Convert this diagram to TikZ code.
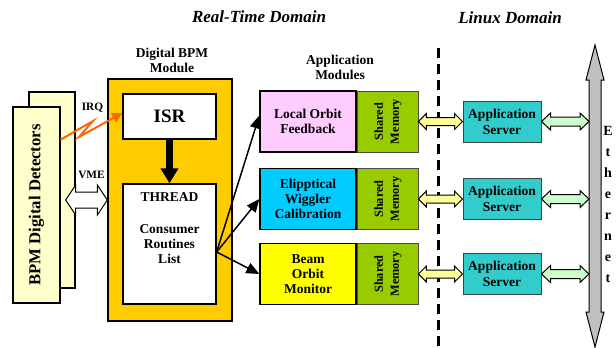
\documentclass[tikz,border=0pt]{standalone}
\usepackage{fontspec}
\setmainfont{Liberation Serif}
\usetikzlibrary{arrows.meta,positioning,calc}
\definecolor{detfill}{RGB}{255,255,204}
\definecolor{bpmorange}{RGB}{255,204,0}
\definecolor{appPink}{RGB}{255,204,255}
\definecolor{appCyan}{RGB}{0,204,255}
\definecolor{appYellow}{RGB}{255,255,0}
\definecolor{shmgreen}{RGB}{153,204,0}
\definecolor{srvteal}{RGB}{51,204,204}
\definecolor{ylwarrow}{RGB}{255,255,153}
\definecolor{grnarrow}{RGB}{204,255,204}
\definecolor{ethgray}{RGB}{192,192,192}
\definecolor{irqorange}{RGB}{255,102,0}
\newcommand{\lbl}{\fontsize{13.5}{15}\selectfont\bfseries}
% fat horizontal double arrow: style, left end, right end, shaft/2, head/2, head length
\newcommand{\fatarrow}[6]{%
  \path[#1] let \p1=(#2), \p2=(#3) in
    (\x1,\y1) -- (\x1+#6,\y1+#5) -- (\x1+#6,\y1+#4) -- (\x2-#6,\y1+#4) -- (\x2-#6,\y1+#5) -- (\x2,\y1)
    -- (\x2-#6,\y1-#5) -- (\x2-#6,\y1-#4) -- (\x1+#6,\y1-#4) -- (\x1+#6,\y1-#5) -- cycle;}

\begin{document}
\begin{tikzpicture}[x=1pt,y=-1pt,
    box/.style={draw,line width=1.3pt,inner sep=0pt,align=center,font=\lbl},
    detbox/.style={draw,line width=1.3pt,fill=detfill,inner sep=0pt,font=\fontsize{16.7}{18}\selectfont\bfseries},
    shmbox/.style={draw=black!70,line width=0.8pt,fill=shmgreen,minimum width=61pt,minimum height=61pt,inner sep=0pt,
      font=\fontsize{12.3}{16}\selectfont\bfseries},
    srvbox/.style={draw=black!75,line width=1pt,fill=srvteal,minimum width=78pt,minimum height=41pt,inner sep=0pt,
      align=center,font=\fontsize{13.5}{16}\selectfont\bfseries},
    heading/.style={font=\fontsize{17}{20}\selectfont\bfseries\itshape},
    caption/.style={align=center,font=\lbl},
    fanarrow/.style={line width=1.5pt,-{Triangle[length=13pt,width=11pt]}},
    irqarrow/.style={draw=irqorange,line width=2pt,-{Triangle[length=10pt,width=10pt]}}]
  \useasboundingbox (0,0) rectangle (616,348);

  % titles
  \node[heading] (rtdom) at (259,17) {Real-Time Domain};
  \node[heading] (lxdom) at (510,18) {Linux Domain};
  \node[caption] (bpmcap) at (172,60) {Digital BPM\\Module};
  \node[caption] (appcap) at (340,67.5) {Application\\Modules};

  % domain border
  \draw[line width=3pt,dash pattern=on 10pt off 6pt] (438,48) coordinate (domtop) -- (438,348) coordinate (dombot);

  % detector boards
  \node[detbox,minimum width=46pt,minimum height=196pt] (detback) at (52,190) {};
  \node[detbox,minimum width=47pt,minimum height=196pt] (det) at (36.5,205) {\rotatebox{90}{BPM Digital Detectors}};

  % digital BPM module
  \node[box,fill=bpmorange,minimum width=124pt,minimum height=242pt] (bpm) at (170,200) {};
  \node[box,fill=white,minimum width=93pt,minimum height=45pt,font=\fontsize{19}{20}\selectfont\bfseries] (isr) at (169.5,116.5) {ISR};
  \node[box,fill=white,minimum width=93pt,minimum height=120pt] (thread) at (169.5,244) {};
  \node[caption,inner sep=0pt,below=9pt of thread.north] (threadtxt) {THREAD\\[17pt]Consumer\\Routines\\List};
  \draw[line width=7pt,-{Triangle[length=15pt,width=17pt]}] (isr.south) -- (thread.north);
  \coordinate (fan) at ([yshift=-8pt]thread.east);

  % IRQ and VME links
  \node[font=\fontsize{11.3}{13}\selectfont\bfseries] (irqlbl) at (92.5,108) {IRQ};
  \node[font=\fontsize{11.3}{13}\selectfont\bfseries] (vmelbl) at (91.5,175) {VME};
  \draw[irqarrow] (det.east |- isr.south) -- (93,121) -- (79,137) -- ([yshift=3.5pt]isr.west);
  \fatarrow{draw,line width=1pt,fill=white}{$(det.east)+(5,-5)$}{bpm.west}{8pt}{15pt}{10pt}

  % ethernet bus
  \draw[line width=1pt,fill=ethgray] (595,45) coordinate (ethT) -- (604,80) -- (601,80) -- (601,312) -- (604,312)
    -- (595,347) coordinate (ethB) -- (586,312) -- (589,312) -- (589,80) -- (586,80) -- cycle;
  \coordinate (ethL) at (589,200);
  \node[align=center,font=\fontsize{14}{21}\selectfont\bfseries] (ethlbl) at (608,204) {E\\t\\h\\e\\r\\n\\e\\t};

  % application modules, shared memory and servers
  \foreach \txt/\col/\yy/\tip [count=\i] in {Local Orbit\\Feedback/appPink/121.5/6,
      Elipptical\\Wiggler\\Calibration/appCyan/199/0,
      Beam\\Orbit\\Monitor/appYellow/274/0}
  {
    \node[box,fill=\col,minimum width=96pt,minimum height=61pt] (app\i) at (308,\yy) {\txt};
    \node[shmbox,anchor=west] (shm\i) at (app\i.east)
      {\rotatebox{90}{\begin{tabular}{@{}c@{}}Shared\\Memory\end{tabular}}};
    \node[srvbox] (srv\i) at (502,\yy) {Application\\Server};
    \fatarrow{draw,line width=1pt,fill=ylwarrow}{shm\i.east}{srv\i.west}{4pt}{8pt}{8pt}
    \fatarrow{draw,line width=1pt,fill=grnarrow}{srv\i.east}{ethL |- srv\i.east}{4.5pt}{8.5pt}{9pt}
    \draw[fanarrow] (fan) -- ([yshift=\tip pt]app\i.west);
  }
\end{tikzpicture}
\end{document}
